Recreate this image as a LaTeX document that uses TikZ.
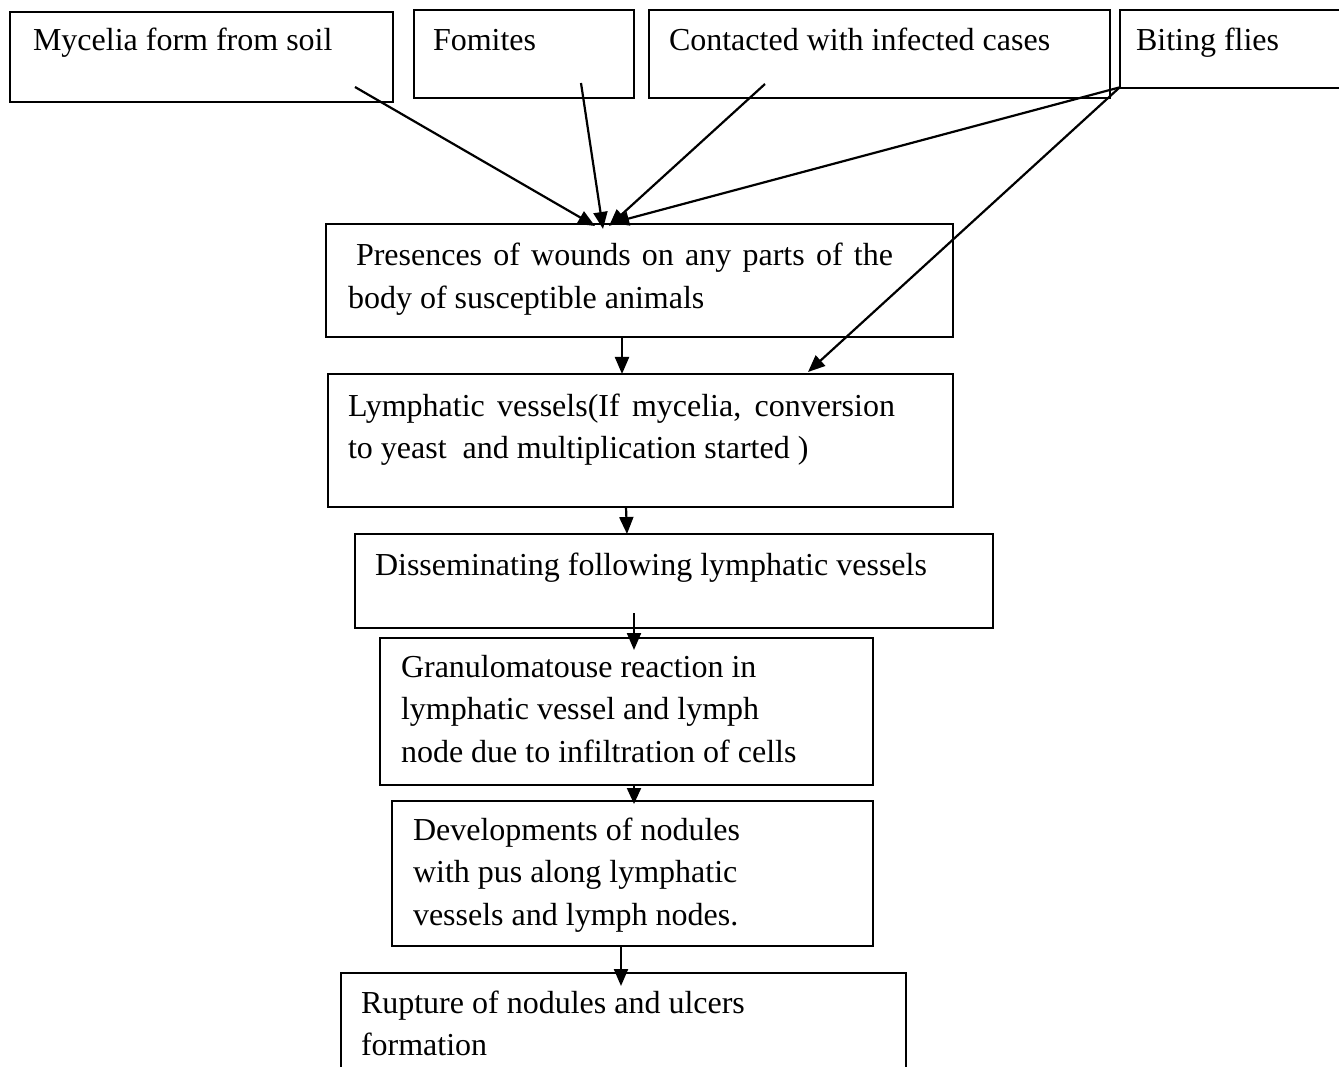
\documentclass[tikz,border=0pt]{standalone}
\usepackage{fontspec}
\setmainfont{Liberation Serif}
\usetikzlibrary{arrows.meta}
\begin{document}
\begin{tikzpicture}[x=1pt,y=-1pt,
  box/.style={draw,line width=2.2pt,inner sep=0pt,outer sep=0pt,anchor=north west},
  txt/.style={inner sep=0pt,outer sep=0pt,anchor=base west,font=\fontsize{32}{42.5}\selectfont},
  arr/.style={line width=2.2pt,-{Triangle[length=17pt,width=14pt]}}]
\useasboundingbox (0,0) rectangle (1339,1067);
\clip (0,0) rectangle (1339,1067);
% boxes
\node[box,minimum width=383pt,minimum height=90pt] (A) at (10,12) {};
\node[box,minimum width=220pt,minimum height=88pt] (B) at (414,10) {};
\node[box,minimum width=461pt,minimum height=88pt] (C) at (649,10) {};
\node[box,minimum width=240pt,minimum height=78pt] (D) at (1120,10) {};
\node[box,minimum width=627pt,minimum height=113pt] (E) at (326,224) {};
\node[box,minimum width=625pt,minimum height=133pt] (F) at (328,374) {};
\node[box,minimum width=638pt,minimum height=94pt] (G) at (355,534) {};
\node[box,minimum width=493pt,minimum height=147pt] (H) at (380,638) {};
\node[box,minimum width=481pt,minimum height=145pt] (I) at (392,801) {};
\node[box,minimum width=565pt,minimum height=120pt] (J) at (341,973) {};
% texts
\node[txt] (tA) at (33,51) {Mycelia form from soil};
\node[txt] (tB) at (433,51) {Fomites};
\node[txt] (tC) at (669,51) {Contacted with infected cases};
\node[txt] (tD) at (1136,51) {Biting flies};
\node[txt] (tE) at (348,266) {\parbox[t]{545pt}{\hspace*{8pt}Presences of wounds on any parts of the\linebreak body of susceptible animals}};
\node[txt] (tF) at (348,416) {\parbox[t]{547pt}{Lymphatic vessels(If mycelia, conversion\linebreak to yeast\ \ and multiplication started )}};
\node[txt] (tG) at (375,575) {Disseminating following lymphatic vessels};
\node[txt] (tH) at (401,677) {\parbox[t]{460pt}{\raggedright Granulomatouse reaction in\\ lymphatic vessel and lymph\\ node due to infiltration of cells}};
\node[txt] (tI) at (413,840) {\parbox[t]{450pt}{\raggedright Developments of nodules\\ with pus along lymphatic\\ vessels and lymph nodes.}};
\node[txt] (tJ) at (361,1013) {\parbox[t]{540pt}{\raggedright Rupture of nodules and ulcers\\ formation}};
% connector coordinates
\coordinate (a0) at (355,87);  \coordinate (a1) at (595,226);
\coordinate (b0) at (581,83);  \coordinate (b1) at (603,229);
\coordinate (c0) at (765,84);  \coordinate (c1) at (609,226);
\coordinate (d0) at (1121,87); \coordinate (d1) at (612,223);
\coordinate (e0) at (1119,88); \coordinate (e1) at (808,372);
\coordinate (f0) at (622,337); \coordinate (f1) at (622,374);
\coordinate (g0) at (626,507); \coordinate (g1) at (627,534);
\coordinate (h0) at (634,613); \coordinate (h1) at (634,650);
\coordinate (i0) at (634,785); \coordinate (i1) at (634,804);
\coordinate (j0) at (621,946); \coordinate (j1) at (621,986);
\draw[arr] (a0) -- (a1);
\draw[arr] (b0) -- (b1);
\draw[arr] (c0) -- (c1);
\draw[arr] (d0) -- (d1);
\draw[arr] (e0) -- (e1);
\draw[arr] (f0) -- (f1);
\draw[arr] (g0) -- (g1);
\draw[arr] (h0) -- (h1);
\draw[arr,-{Triangle[length=16pt,width=14pt]}] (i0) -- (i1);
\draw[arr] (j0) -- (j1);
\end{tikzpicture}
\end{document}
